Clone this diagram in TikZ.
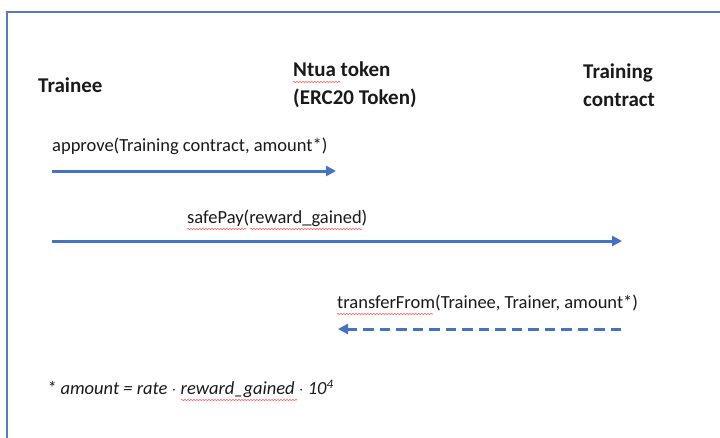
\documentclass[tikz,border=0pt]{standalone}
\usepackage{fontspec}
\setmainfont{Carlito}
\usetikzlibrary{arrows.meta,decorations.pathmorphing}
\definecolor{msgblue}{HTML}{4472C4}
\definecolor{framec}{HTML}{5B7DB3}
\definecolor{inkc}{HTML}{1A1A1A}
\begin{document}
\begin{tikzpicture}[x=1pt,y=-1pt,
  actor/.style={font=\fontsize{21}{28}\selectfont\bfseries, text=inkc, anchor=west, align=left, inner sep=0},
  msglabel/.style={font=\fontsize{18.5}{22}\selectfont, text=inkc, anchor=west, inner sep=0},
  msg/.style={draw=msgblue, line width=3pt, -{Triangle[length=10pt,width=10pt]}},
  spell/.style={draw=red!75, line width=0.6pt, decorate,
    decoration={snake, amplitude=0.5pt, segment length=3pt}}]
\useasboundingbox (0,0) rectangle (720,437);
% outer frame (left and top edges)
\draw[framec, line width=2pt] (7,460) -- (7,12) -- (740,12);

% participants
\node[actor] (trainee)  at (38,85)  {Trainee};
\node[actor] (token)    at (293,85) {Ntua token\\(ERC20 Token)};
\node[actor] (contract) at (583,85) {Training\\contract};

% message end points
\coordinate (m1s) at (52,171);
\coordinate (m1e) at (336,171);
\coordinate (m2s) at (52,241);
\coordinate (m2e) at (622,241);
\coordinate (m3s) at (621,329);
\coordinate (m3e) at (338,329);

% messages
\node[msglabel] (l1) at (52,146)  {approve(Training contract, amount*)};
\draw[msg] (m1s) -- (m1e);

\node[msglabel] (l2) at (187,218) {safePay(reward\_gained)};
\draw[msg] (m2s) -- (m2e);

\node[msglabel] (l3) at (337,303) {transferFrom(Trainee, Trainer, amount*)};
\draw[msg, dash pattern=on 10.5pt off 6pt] (m3s) -- (m3e);

% footnote
\node[msglabel, font=\fontsize{18.5}{22}\selectfont\itshape] (note) at (47,389)
  {* amount = rate $\cdot$ reward\_gained $\cdot$ 10\textsuperscript{4}};

% spell-check marks
\draw[spell] (293,82) -- (340,82);
\draw[spell] (187,229) -- (246,229);
\draw[spell] (250,229) -- (362,229);
\draw[spell] (337,314) -- (433,314);
\draw[spell] (181,400) -- (297,400);
\end{tikzpicture}
\end{document}
